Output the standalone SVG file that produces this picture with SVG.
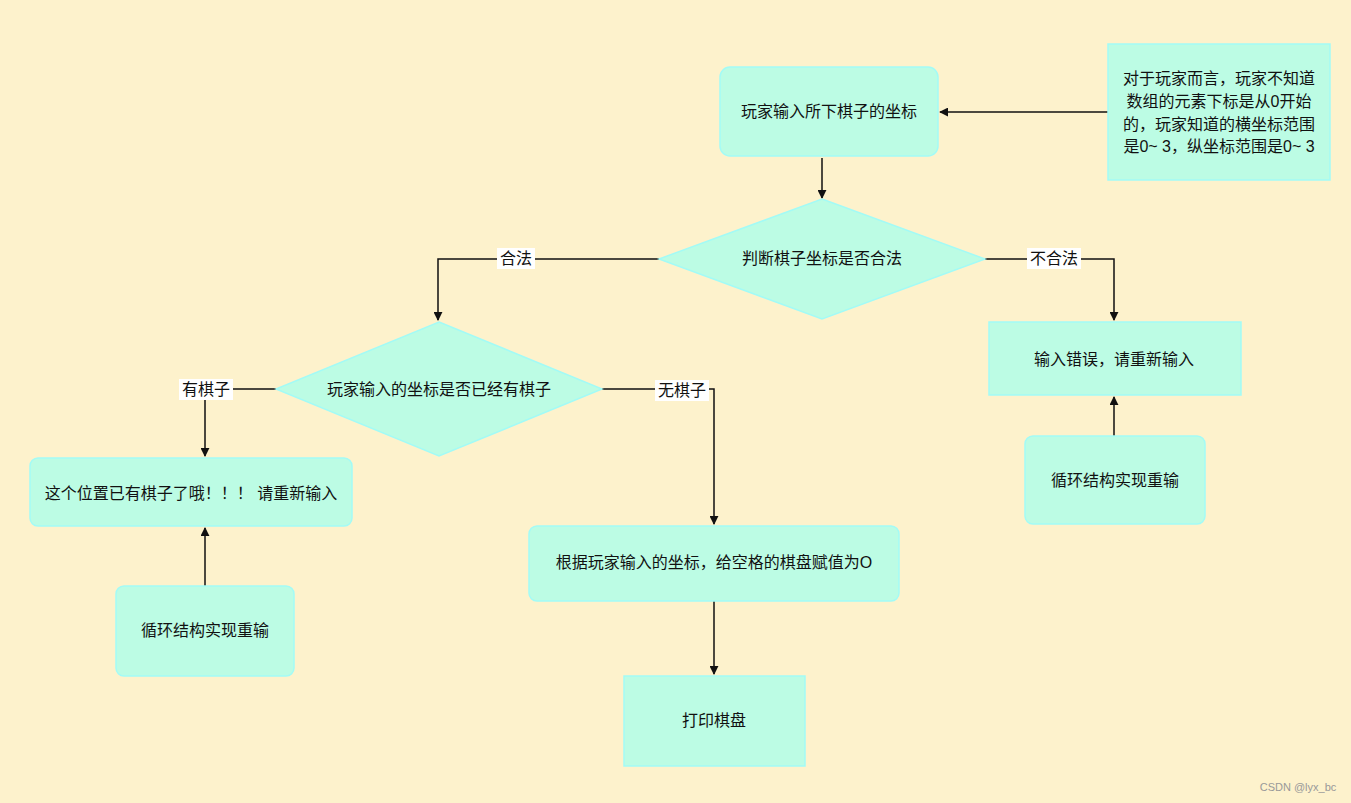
<svg xmlns="http://www.w3.org/2000/svg" width="1351" height="803" viewBox="0 0 1351 803">
<style>
.n{fill:#bcfce4;stroke:#a3fbf6;stroke-width:1.5}
text{font-family:"Liberation Sans","Noto Sans CJK SC",sans-serif;font-size:16px;fill:#111;text-anchor:middle;dominant-baseline:central}
.c{fill:none;stroke:#111;stroke-width:1.5}
.lb{fill:#fff}
</style>
<defs><marker id="a" viewBox="0 0 10 10" refX="9" refY="5" markerWidth="9" markerHeight="9" orient="auto" markerUnits="userSpaceOnUse"><path d="M0,0L10,5L0,10z" fill="#111"/></marker></defs>
<rect width="1351" height="803" fill="#fdf2cc"/>
<g id="connectors">
<path class="c" d="M1108,112H940" marker-end="url(#a)"/>
<path class="c" d="M822,158V198" marker-end="url(#a)"/>
<path class="c" d="M659,259H438V320" marker-end="url(#a)"/>
<path class="c" d="M985,259H1114V320" marker-end="url(#a)"/>
<path class="c" d="M1114,436V397" marker-end="url(#a)"/>
<path class="c" d="M276,389H205V456" marker-end="url(#a)"/>
<path class="c" d="M602,389H714V524" marker-end="url(#a)"/>
<path class="c" d="M205,586V528" marker-end="url(#a)"/>
<path class="c" d="M714,601V674" marker-end="url(#a)"/>
<rect class="lb" x="497" y="248" width="38" height="21"/><text x="516" y="258">合法</text>
<rect class="lb" x="1027" y="248" width="54" height="21"/><text x="1054" y="258">不合法</text>
<rect class="lb" x="179" y="379" width="54" height="21"/><text x="206" y="389">有棋子</text>
<rect class="lb" x="655" y="380" width="54" height="21"/><text x="682" y="390">无棋子</text>
</g>
<g id="n1"><rect class="n" x="720" y="67" width="218" height="89" rx="10"/><text x="829" y="111">玩家输入所下棋子的坐标</text></g>
<g id="note"><rect class="n" x="1108" y="44" width="222" height="136"/>
<text x="1219" y="78">对于玩家而言，玩家不知道</text><text x="1219" y="101">数组的元素下标是从0开始</text><text x="1219" y="124">的，玩家知道的横坐标范围</text><text x="1219" y="146">是0~ 3，纵坐标范围是0~ 3</text></g>
<g id="d1"><polygon class="n" points="822,199 985,259 822,319 659,259"/><text x="822" y="258">判断棋子坐标是否合法</text></g>
<g id="err"><rect class="n" x="989" y="322" width="252" height="73"/><text x="1114" y="359">输入错误，请重新输入</text></g>
<g id="loop1"><rect class="n" x="1025" y="436" width="180" height="88" rx="8"/><text x="1115" y="480">循环结构实现重输</text></g>
<g id="d2"><polygon class="n" points="439,322 602,389 439,456 276,389"/><text x="439" y="389">玩家输入的坐标是否已经有棋子</text></g>
<g id="has"><rect class="n" x="30" y="458" width="322" height="68" rx="8"/><text x="191" y="493">这个位置已有棋子了哦！！！ 请重新输入</text></g>
<g id="loop2"><rect class="n" x="116" y="586" width="178" height="90" rx="8"/><text x="205" y="630">循环结构实现重输</text></g>
<g id="set"><rect class="n" x="529" y="526" width="370" height="75" rx="8"/><text x="714" y="562">根据玩家输入的坐标，给空格的棋盘赋值为O</text></g>
<g id="print"><rect class="n" x="624" y="676" width="181" height="90"/><text x="714" y="720">打印棋盘</text></g>
<text x="1298" y="787" style="font-size:11px;fill:#999">CSDN @lyx_bc</text>
</svg>
